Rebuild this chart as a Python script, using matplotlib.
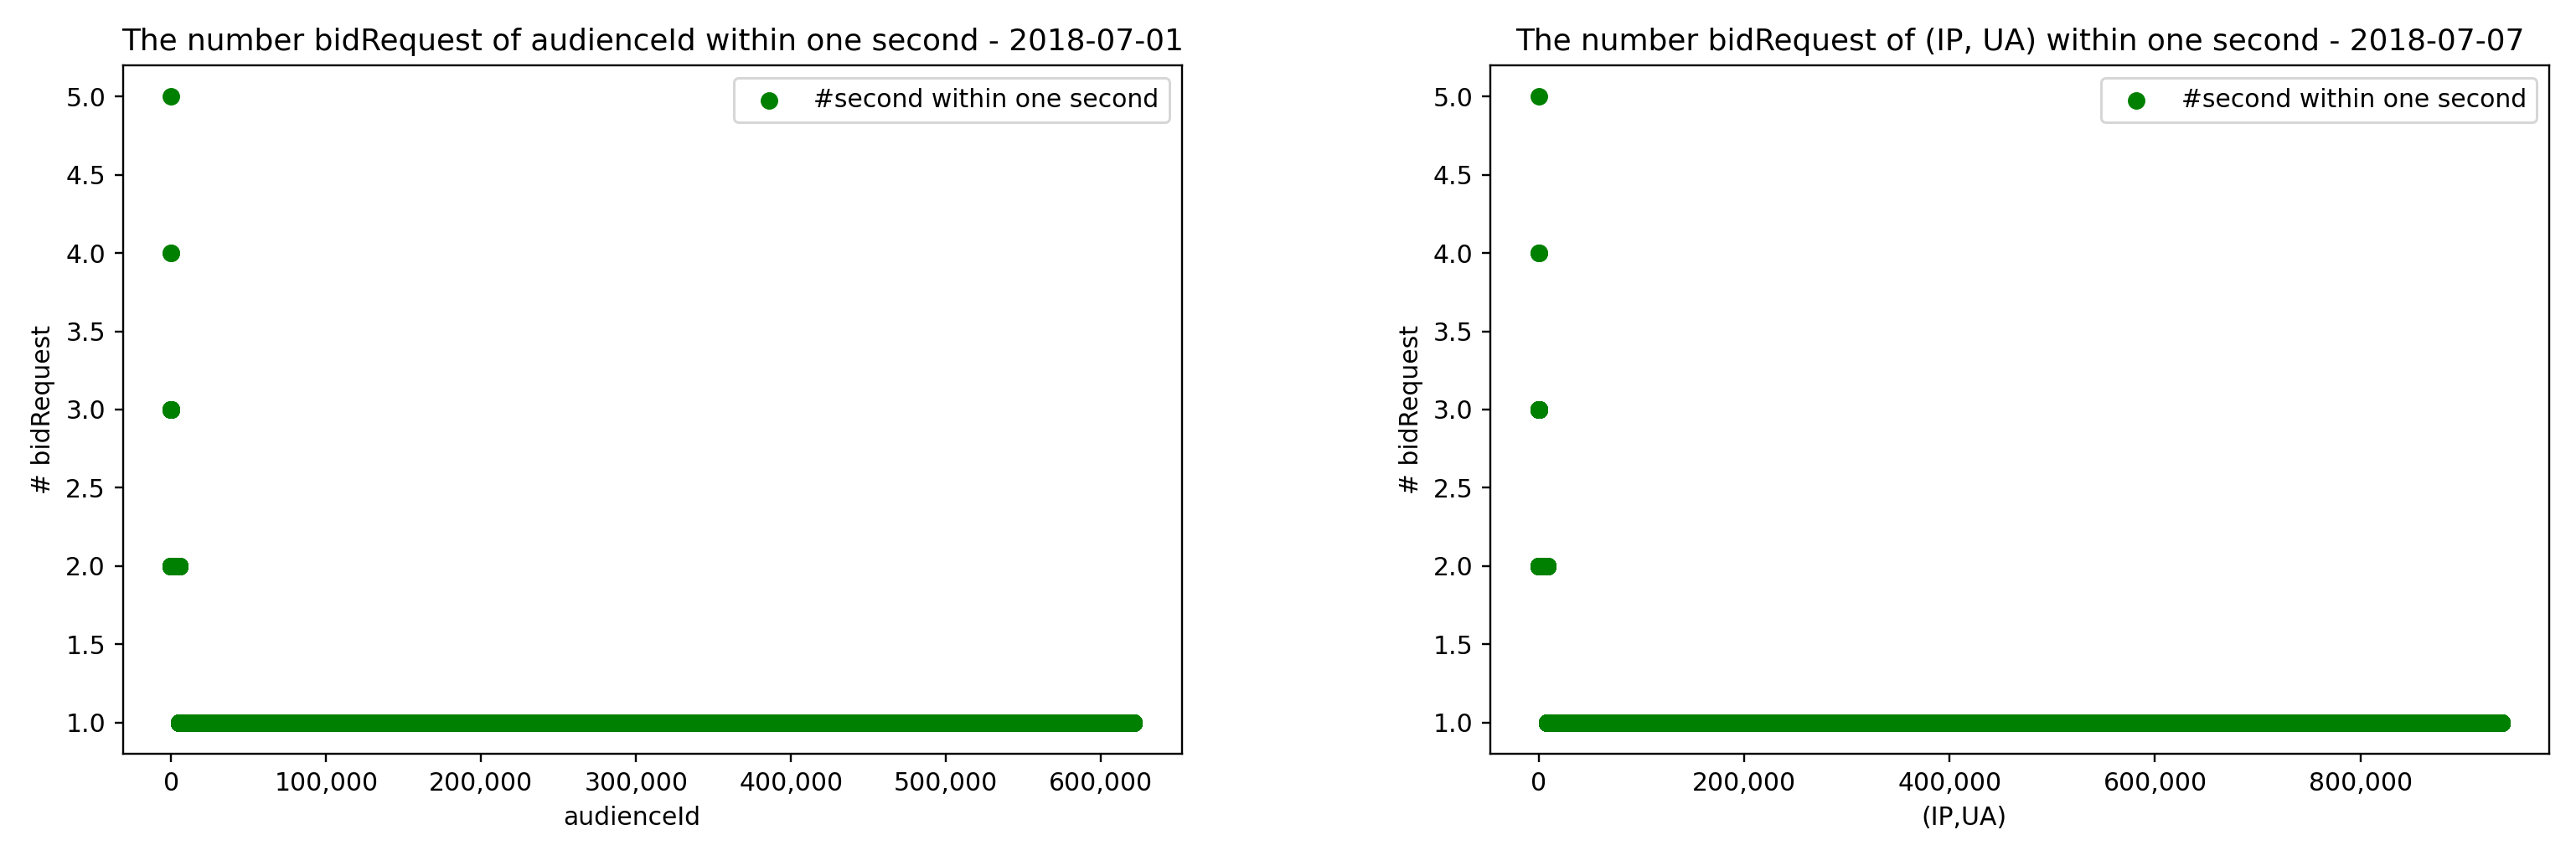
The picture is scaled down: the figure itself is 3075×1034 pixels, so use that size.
# Distribution of bidRequest counts within one second
# left: audienceId (2018-07-01), right: (IP, UA) pair (2018-07-07)

import numpy as np
import matplotlib.pyplot as plt
from matplotlib.ticker import StrMethodFormatter


# Data ........................................................................
# number of bidRequests within one second, and how many ids reach each level
# (ids are sorted by count, so each level fills a run of consecutive ranks)
levels = [5, 4, 3, 2, 1]
audience_counts = [1, 2, 12, 5000, 616000]
ipua_counts = [1, 3, 20, 8000, 929000]

titles = ["The number bidRequest of audienceId within one second - 2018-07-01",
          "The number bidRequest of (IP, UA) within one second - 2018-07-07"]
xlabels = ["audienceId", "(IP,UA)"]
xlabel_pos = [0.481, 0.447]
legend_label = "#second within one second"


# Plot ........................................................................
fig, axes = plt.subplots(1, 2, figsize = (3075 / 215, 1034 / 215), dpi = 215)
plt.subplots_adjust(left = 0.0478, right = 0.9896, bottom = 0.1296, top = 0.9246, wspace = 0.292)

for ax, counts, title, xlab, xpos in zip(axes, [audience_counts, ipua_counts], titles, xlabels, xlabel_pos):
    y = np.repeat(levels, counts)
    x = np.arange(len(y))
    ax.scatter(x, y, c = "g", label = legend_label)
    ax.set_title(title)
    ax.set_xlabel(xlab, x = xpos)
    ax.set_ylabel("# bidRequest")
    ax.xaxis.set_major_formatter(StrMethodFormatter("{x:,.0f}"))
    ax.legend(loc = "upper right")

fig.savefig("out.png", dpi = 215)
